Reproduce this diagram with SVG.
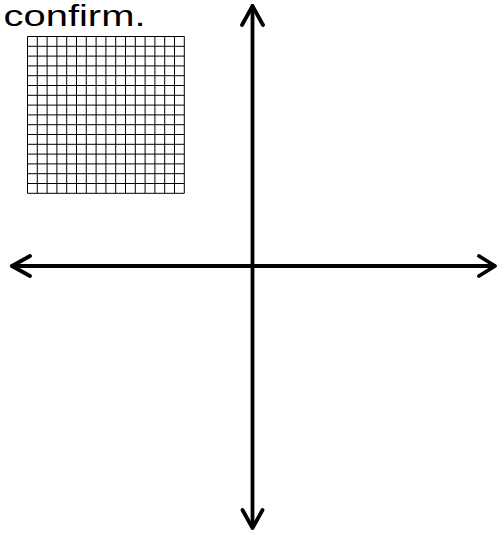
<svg xmlns="http://www.w3.org/2000/svg" width="497" height="533" viewBox="0 0 497 533">
<style>
.axis{stroke:#000;stroke-width:3.8;fill:none;stroke-linecap:round;stroke-linejoin:round}
.grid{stroke:#000;stroke-width:1;fill:none}
.lbl{font-family:"Liberation Sans",Arial,sans-serif;font-size:30px;fill:#000}
</style>
<rect width="497" height="533" fill="#fff"/>
<text class="lbl" x="3.5" y="26" textLength="142" lengthAdjust="spacingAndGlyphs">confirm.</text>
<g id="grid">
<path class="grid" d="M27.5 36.5H184.3M27.5 46.3H184.3M27.5 56.1H184.3M27.5 65.9H184.3M27.5 75.7H184.3M27.5 85.5H184.3M27.5 95.3H184.3M27.5 105.1H184.3M27.5 114.9H184.3M27.5 124.7H184.3M27.5 134.5H184.3M27.5 144.3H184.3M27.5 154.1H184.3M27.5 163.9H184.3M27.5 173.7H184.3M27.5 183.5H184.3M27.5 193.3H184.3"/>
<path class="grid" d="M27.5 36.5V193.3M37.3 36.5V193.3M47.1 36.5V193.3M56.9 36.5V193.3M66.7 36.5V193.3M76.5 36.5V193.3M86.3 36.5V193.3M96.1 36.5V193.3M105.9 36.5V193.3M115.7 36.5V193.3M125.5 36.5V193.3M135.3 36.5V193.3M145.1 36.5V193.3M154.9 36.5V193.3M164.7 36.5V193.3M174.5 36.5V193.3M184.3 36.5V193.3"/>
</g>
<g id="connectors">
<path class="axis" d="M252.5 6V527"/>
<path class="axis" d="M242 25L252.5 6L263 25"/>
<path class="axis" d="M242.5 510L252.5 528L262.5 510"/>
<path class="axis" d="M12 266H494"/>
<path class="axis" d="M30 256L12 266L30 276"/>
<path class="axis" d="M479 256L495 266L479 276"/>
</g>
</svg>
